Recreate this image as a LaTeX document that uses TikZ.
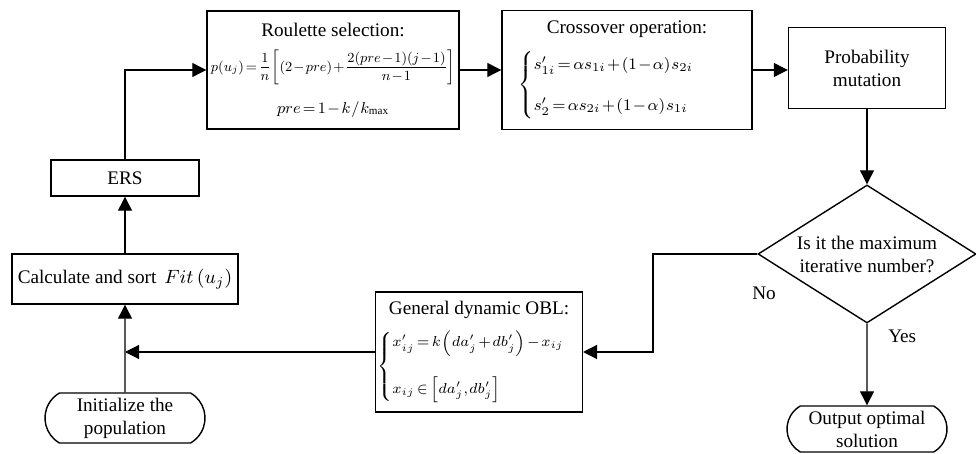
\documentclass[tikz,border=0pt]{standalone}
\usepackage{fix-cm}
\usepackage{amsmath}
\usepackage{graphicx}
\usepackage{fontspec}
\setmainfont{Liberation Serif}
\usetikzlibrary{arrows.meta,shapes.geometric,shapes.misc}
\newcommand{\tightmath}{\thinmuskip=1mu\medmuskip=1.5mu\thickmuskip=2.5mu}
\newcommand{\fiteq}[2]{{\tightmath\resizebox{#1}{!}{$#2$}}}
\newcommand{\eqsz}[1]{\fontsize{#1}{1.2\dimexpr#1pt\relax}\selectfont\tightmath}

\begin{document}
\begin{tikzpicture}[x=0.5pt, y=-0.5pt, font=\fontsize{9.6}{11.5}\selectfont,
  box/.style={draw, line width=0.7pt, align=center, inner sep=1pt},
  term/.style={draw, line width=0.7pt, rounded rectangle, rounded rectangle arc length=120, align=center, inner sep=1pt, minimum width=82pt},
  decision/.style={draw, line width=0.7pt, diamond, aspect=1.6, align=center, inner sep=0pt, minimum width=109pt, minimum height=69pt},
  link/.style={line width=0.6pt, -{Triangle[length=7pt,width=7pt]}}]
\useasboundingbox (0,0) rectangle (976,454);
% top row: selection, crossover, mutation
\node[box, minimum width=126pt, minimum height=59pt] (roul) at (333,70) {Roulette selection:\\[6pt]
  \fiteq{122pt}{\displaystyle p(u_j)=\frac{1}{n}\left[(2-pre)+\frac{2(pre-1)(j-1)}{n-1}\right]}\\[7pt]
  \fiteq{56pt}{pre=1-k\,/\,k_{\max}}};
\node[box, minimum width=125pt, minimum height=59.5pt] (cross) at (627,70) {Crossover operation:\\[6pt]
  {\eqsz{8}$\begin{cases} s_{1i}'=\alpha s_{1i}+\left(1-\alpha\right)s_{2i}\\[9pt] s_2'=\alpha s_{2i}+\left(1-\alpha\right)s_{1i}\end{cases}$}\hspace*{12pt}};
\node[box, minimum width=78.5pt, minimum height=40.5pt] (mut) at (867,68) {Probability\\mutation};
\node[decision] (dec) at (867,254) {Is it the maximum\\iterative number?};
\node[term, minimum height=23pt] (outp) at (867,429) {Output optimal\\solution};
% left column and the opposition step
\node[box, minimum width=102pt, minimum height=60pt] (obl) at (479,352) {General dynamic OBL:\\[5pt]
  {\eqsz{7.2}$\begin{cases} x_{ij}'=k\left(da_j'+db_j'\right)-x_{ij}\\[12pt] x_{ij}\in\left[da_j',db_j'\right]\end{cases}$}};
\node[box, minimum width=113pt, minimum height=25pt] (calc) at (125,279) {Calculate and sort \,$Fit\left(u_j\right)$};
\node[box, minimum width=74pt, minimum height=18pt] (ers) at (125,178) {ERS};
\node[term, minimum height=25pt] (init) at (125,418) {Initialize the\\population};
\node (no) at (764,293) {No};
\coordinate (bend) at (653,254);
% connectors
\draw[link] (init) -- (calc);
\draw[link] (calc) -- (ers);
\draw[link] (ers.north) |- (roul.west);
\draw[link] (roul) -- (cross);
\draw[link] (cross) -- (mut.west |- cross);
\draw[link] (mut) -- (dec);
\draw[link] (dec) -- node[pos=0.16, right=7pt] {Yes} (outp);
\draw[link] (dec.west) -- (bend) |- (obl.east);
\draw[link] (obl.west) -- (obl.west -| calc);
\end{tikzpicture}
\end{document}
